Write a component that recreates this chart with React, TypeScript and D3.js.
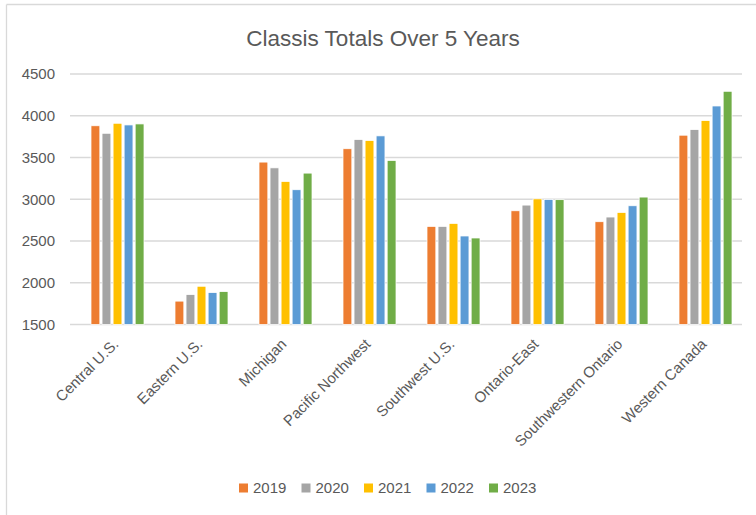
import React from "react";
import * as d3 from "d3";

const categories = [
  "Central U.S.",
  "Eastern U.S.",
  "Michigan",
  "Pacific Northwest",
  "Southwest U.S.",
  "Ontario-East",
  "Southwestern Ontario",
  "Western Canada",
];
const years = ["2019", "2020", "2021", "2022", "2023"];
const v2019 = [3880, 1780, 3445, 3605, 2675, 2862, 2731, 3767];
const v2020 = [3790, 1858, 3376, 3715, 2675, 2930, 2787, 3834];
const v2021 = [3910, 1958, 3213, 3703, 2711, 3005, 2842, 3942];
const v2022 = [3890, 1882, 3114, 3759, 2560, 2998, 2922, 4117];
const v2023 = [3902, 1894, 3313, 3464, 2536, 2995, 3026, 4293];
const seriesValues = [v2019, v2020, v2021, v2022, v2023];
const colors = ["#ED7D31", "#A5A5A5", "#FFC000", "#5B9BD5", "#70AD47"];
const yTicks = [1500, 2000, 2500, 3000, 3500, 4000, 4500];
const title = "Classis Totals Over 5 Years";

const W = 756;
const H = 515;
const FONT = "'Liberation Sans', Arial, sans-serif";
const TXT = "#595959";

export default function App() {
  const y = d3.scaleLinear().domain([1500, 4500]).range([324.5, 74]);
  const x0 = d3.scaleBand<string>().domain(categories).range([75.5, 747.5]).padding(0);
  const clusterW = 53;
  const x1 = d3.scaleBand<string>().domain(years).range([0, clusterW]).paddingInner(0.2).paddingOuter(0);
  const gridX0 = 70;
  const gridX1 = 742;

  return (
    <svg
      width={W}
      height={H}
      style={{ position: "absolute", left: 0, top: 0, display: "block", background: "#fff" }}
      fontFamily={FONT}
    >
      <rect x={0} y={0} width={W} height={H} fill="#fff" />
      {/* chart border (top and left visible) */}
      <line x1={6.5} x2={W + 2} y1={4.5} y2={4.5} stroke="#d9d9d9" strokeWidth={1.3} />
      <line x1={6.5} x2={6.5} y1={4.5} y2={H + 2} stroke="#d9d9d9" strokeWidth={1.3} />

      <text x={383} y={46} textAnchor="middle" fontSize={22.5} fill={TXT}>
        {title}
      </text>

      {yTicks.map((t) => (
        <g key={t}>
          <line x1={gridX0} x2={gridX1} y1={y(t)} y2={y(t)} stroke="#d9d9d9" strokeWidth={1.3} />
          <text x={55} y={y(t)} dy="0.35em" textAnchor="end" fontSize={15} fill={TXT}>
            {t}
          </text>
        </g>
      ))}

      {categories.map((c, ci) => {
        const gx = (x0(c) as number) + (x0.bandwidth() - clusterW) / 2;
        return (
          <g key={c} transform={`translate(${gx},0)`}>
            {years.map((yr, si) => {
              const v = seriesValues[si][ci];
              return (
                <rect
                  key={yr}
                  x={x1(yr) as number}
                  y={y(v)}
                  width={x1.bandwidth()}
                  height={y(1500) - y(v)}
                  fill={colors[si]}
                  stroke="#ffffff"
                  strokeWidth={0.75}
                />
              );
            })}
          </g>
        );
      })}

      {categories.map((c) => {
        const cx = (x0(c) as number) + x0.bandwidth() / 2;
        return (
          <text
            key={c}
            transform={`translate(${cx + 2},${345}) rotate(-45)`}
            textAnchor="end"
            fontSize={15}
            fill={TXT}
          >
            {c}
          </text>
        );
      })}

      {years.map((yr, i) => {
        const lx = 239 + i * 62.5;
        return (
          <g key={yr} transform={`translate(${lx},0)`}>
            <rect x={0} y={483.5} width={9} height={9} fill={colors[i]} />
            <text x={14} y={488} dy="0.35em" fontSize={15} fill={TXT}>
              {yr}
            </text>
          </g>
        );
      })}
    </svg>
  );
}
